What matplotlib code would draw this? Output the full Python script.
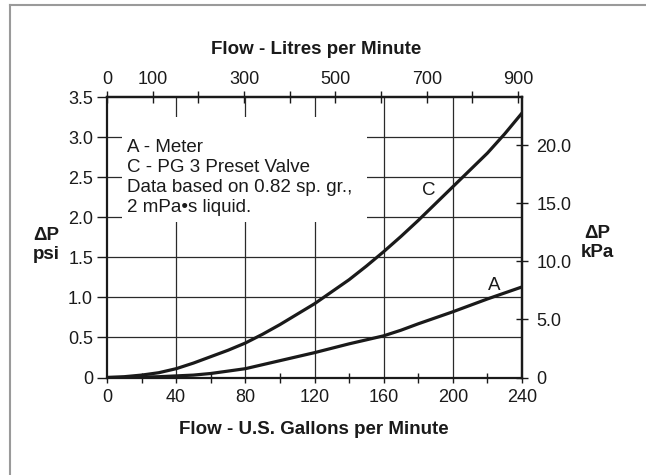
import matplotlib
matplotlib.use('Agg')
import matplotlib.pyplot as plt
from matplotlib.lines import Line2D
from matplotlib.patches import Rectangle

plt.rcParams['font.family'] = ['Liberation Sans', 'DejaVu Sans']

# flow in US gpm
gpm = [0, 10, 20, 30, 40, 50, 60, 70, 80, 90, 100, 110, 120,
       130, 140, 150, 160, 170, 180, 190, 200, 210, 220, 230, 240]
# pressure drop in psi
dp_meter = [0.0, 0.0, 0.005, 0.01, 0.02, 0.03, 0.05, 0.08, 0.11, 0.16, 0.21, 0.26, 0.31,
            0.365, 0.42, 0.47, 0.52, 0.59, 0.67, 0.745, 0.82, 0.90, 0.98, 1.055, 1.13]
dp_valve = [0.0, 0.01, 0.03, 0.06, 0.11, 0.18, 0.26, 0.34, 0.43, 0.54, 0.66, 0.79, 0.92,
            1.07, 1.22, 1.39, 1.57, 1.76, 1.96, 2.17, 2.38, 2.59, 2.80, 3.04, 3.30]

gpm_ticks = [0, 40, 80, 120, 160, 200, 240]
psi_ticks = [0, 0.5, 1.0, 1.5, 2.0, 2.5, 3.0, 3.5]
psi_labels = ['0', '0.5', '1.0', '1.5', '2.0', '2.5', '3.0', '3.5']
kpa_ticks = [0, 5, 10, 15, 20]
kpa_labels = ['0', '5.0', '10.0', '15.0', '20.0']
lpm_ticks = [0, 100, 200, 300, 400, 500, 600, 700, 800, 900]
lpm_labels = ['0', '100', '', '300', '', '500', '', '700', '', '900']

L_PER_GAL = 3.78541
KPA_PER_PSI = 6.89476
W, H = 646, 475
fs = 13
ink = '#1a1a1a'

fig = plt.figure(figsize=(W / 100, H / 100), dpi=100)
ax = fig.add_axes([107 / W, 1 - 377.5 / H, 415 / W, 280.5 / H])

# gridlines
for g in gpm_ticks[1:-1]:
    ax.axvline(g, color='#2a2a2a', lw=0.9, zorder=1)
for p in psi_ticks[1:-1]:
    ax.axhline(p, color='#2a2a2a', lw=0.9, zorder=1)

# white box behind the note (figure pixels)
ax.add_patch(Rectangle((122 / W, 1 - 222 / H), 245 / W, 105 / H,
                       transform=fig.transFigure, facecolor='white',
                       edgecolor='none', zorder=2))

ax.plot(gpm, dp_meter, color=ink, lw=2.3, zorder=3)
ax.plot(gpm, dp_valve, color=ink, lw=2.3, zorder=3)

ax.text(186, 2.33, 'C', fontsize=13.5, ha='center', va='center', color=ink, zorder=4)
ax.text(224, 1.15, 'A', fontsize=13.5, ha='center', va='center', color=ink, zorder=4)

note = 'A - Meter\nC - PG 3 Preset Valve\nData based on 0.82 sp. gr.,\n2 mPa\u2022s liquid.'
fig.text(127 / W, 1 - 139.5 / H, note, fontsize=13.5, ha='left', va='top',
         linespacing=1.22, color=ink, zorder=5)

ax.set_xlim(0, 240)
ax.set_ylim(0, 3.5)
for s in ax.spines.values():
    s.set_linewidth(1.6)
    s.set_color(ink)

ax.set_xticks(gpm_ticks)
ax.set_xticks(range(20, 240, 40), minor=True)
ax.set_yticks(psi_ticks)
ax.set_yticklabels(psi_labels)
ax.tick_params(axis='x', which='major', direction='out', length=3.5, width=1.0,
               labelsize=fs, pad=5, colors=ink)
ax.tick_params(axis='x', which='minor', direction='inout', length=7, width=1.0, colors=ink)
ax.tick_params(axis='y', which='major', direction='out', length=7, width=1.0,
               labelsize=fs, pad=3, colors=ink)

top = ax.secondary_xaxis('top', functions=(lambda x: x * L_PER_GAL,
                                           lambda x: x / L_PER_GAL))
top.set_xticks(lpm_ticks)
top.set_xticklabels(lpm_labels)
top.tick_params(direction='inout', length=8.5, width=1.0, labelsize=fs, pad=2, colors=ink)
top.spines['top'].set_linewidth(1.6)

right = ax.secondary_yaxis('right', functions=(lambda x: x * KPA_PER_PSI,
                                               lambda x: x / KPA_PER_PSI))
right.set_yticks(kpa_ticks)
right.set_yticklabels(kpa_labels)
right.tick_params(direction='inout', length=8.5, width=1.0, labelsize=fs, pad=6, colors=ink)
right.spines['right'].set_linewidth(1.6)

fig.text(316 / W, 1 - 50 / H, 'Flow - Litres per Minute', fontsize=13.5,
         fontweight='bold', ha='center', va='center', color=ink)
fig.text(314 / W, 1 - 429 / H, 'Flow - U.S. Gallons per Minute', fontsize=13.5,
         fontweight='bold', ha='center', va='center', color=ink)
fig.text(46 / W, 1 - 245 / H, '\u0394P\npsi', fontsize=13.5, fontweight='bold',
         ha='center', va='center', linespacing=1.2, color=ink)
fig.text(597 / W, 1 - 243 / H, '\u0394P\nkPa', fontsize=13.5, fontweight='bold',
         ha='center', va='center', linespacing=1.2, color=ink)

# outer frame
fig.add_artist(Line2D([10 / W, 10 / W], [0, 1 - 4.5 / H], color='#9a9a9a', lw=1.5))
fig.add_artist(Line2D([10 / W, 1], [1 - 4.5 / H, 1 - 4.5 / H], color='#9a9a9a', lw=1.5))

fig.savefig('out.png', dpi=100)
